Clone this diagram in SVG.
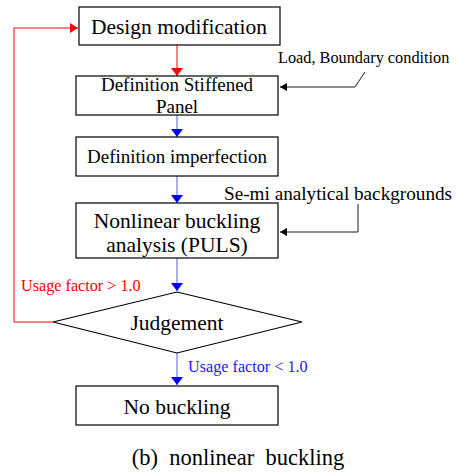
<svg xmlns="http://www.w3.org/2000/svg" width="457" height="474" viewBox="0 0 457 474">
  <style>
    .box { fill: #fff; stroke: #000; stroke-width: 1.2; }
    text { font-family: 'Liberation Serif', serif; }
    .lbl { font-size: 21.5px; text-anchor: middle; fill: #000; }
    .mid { font-size: 19px; text-anchor: middle; fill: #000; }
    .note { fill: #000; }
    .cond { font-size: 16.2px; }
    .red { stroke: #ff0000; fill: none; stroke-width: 1; }
    .blue { stroke: #5a5aff; fill: none; stroke-width: 1; }
    .blk { stroke: #000; fill: none; stroke-width: 0.9; }
  </style>
  <defs>
    <marker id="ahRed" markerWidth="12" markerHeight="12" refX="8" refY="5" orient="auto" markerUnits="userSpaceOnUse">
      <path d="M0,0 L8,5 L0,10 Z" fill="#ff0000"/>
    </marker>
    <marker id="ahBlue" markerWidth="14" markerHeight="14" refX="8" refY="6" orient="auto" markerUnits="userSpaceOnUse">
      <path d="M0,0 L8,6 L0,12 Z" fill="#0000ff"/>
    </marker>
    <marker id="ahRedDown" markerWidth="14" markerHeight="14" refX="8" refY="6" orient="auto" markerUnits="userSpaceOnUse">
      <path d="M0,0 L8,6 L0,12 Z" fill="#ff0000"/>
    </marker>
    <marker id="ahBlk" markerWidth="10" markerHeight="10" refX="7" refY="4" orient="auto" markerUnits="userSpaceOnUse">
      <path d="M0,0 L7,4 L0,8 Z" fill="#000"/>
    </marker>
  </defs>

  <g id="connectors">
    <path class="red" d="M177,45 V76" marker-end="url(#ahRedDown)"/>
    <path class="blue" d="M177,115 V137" marker-end="url(#ahBlue)"/>
    <path class="blue" d="M177,176 V203" marker-end="url(#ahBlue)"/>
    <path class="blue" d="M177,258 V291" marker-end="url(#ahBlue)"/>
    <path class="blue" d="M177,353 V385" marker-end="url(#ahBlue)"/>
    <path class="red" d="M53,322 H14 V28 H78" marker-end="url(#ahRed)"/>
    <path class="blk" d="M365,72 L355,87 H280" marker-end="url(#ahBlk)"/>
    <path class="blk" d="M358,204 V232 H280" marker-end="url(#ahBlk)"/>
    <text class="cond" x="21" y="291" fill="#ff0000">Usage factor &gt; 1.0</text>
    <text class="cond" x="188" y="372" fill="#1a1aff">Usage factor &lt; 1.0</text>
    <text class="note" x="278" y="63" font-size="16.3">Load, Boundary condition</text>
    <text class="note" x="224" y="200" font-size="19.2">Se-mi analytical backgrounds</text>
  </g>

  <g id="design-modification">
    <rect class="box" x="79" y="7" width="201" height="38"/>
    <text class="lbl" x="179" y="34">Design modification</text>
  </g>

  <g id="definition-stiffened-panel">
    <rect class="box" x="76" y="76" width="202" height="39"/>
    <text class="mid" x="177" y="91">Definition Stiffened</text>
    <text class="mid" x="177" y="113">Panel</text>
  </g>

  <g id="definition-imperfection">
    <rect class="box" x="76" y="137" width="202" height="39"/>
    <text class="mid" x="177" y="163">Definition imperfection</text>
  </g>

  <g id="nonlinear-buckling-analysis">
    <rect class="box" x="76" y="203" width="202" height="55"/>
    <text class="lbl" x="177" y="228">Nonlinear buckling</text>
    <text class="lbl" x="177" y="252">analysis (PULS)</text>
  </g>

  <g id="judgement">
    <polygon class="box" points="177,292 302,322 177,353 53,322"/>
    <text class="lbl" x="177" y="330">Judgement</text>
  </g>

  <g id="no-buckling">
    <rect class="box" x="76" y="386" width="202" height="39"/>
    <text class="lbl" x="177" y="414">No buckling</text>
  </g>

  <text x="238" y="465" font-size="22.5" text-anchor="middle" fill="#000" xml:space="preserve">(b)  nonlinear  buckling</text>
</svg>
